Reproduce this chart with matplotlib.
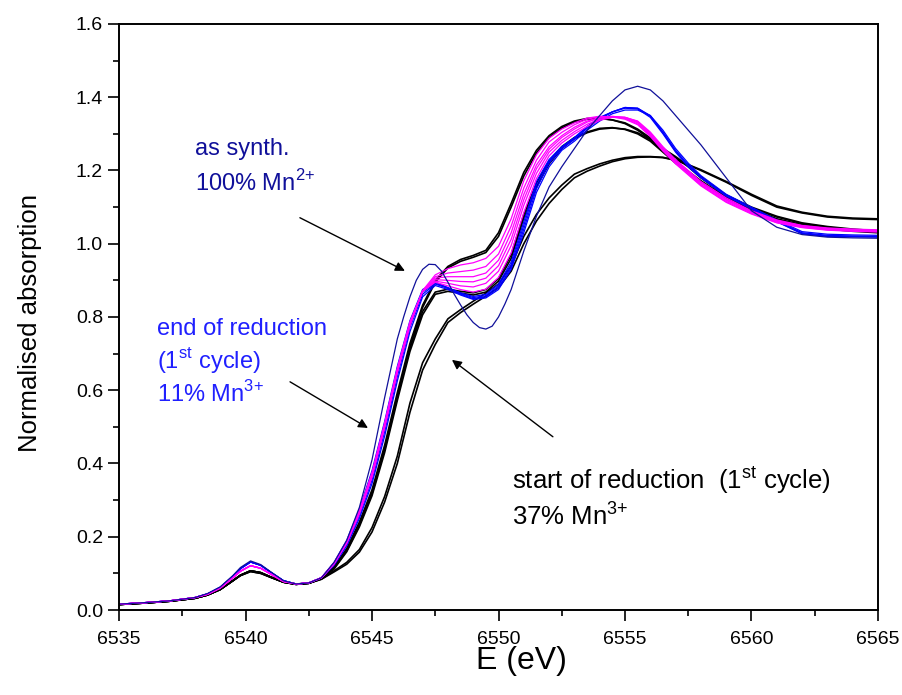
import numpy as np
import matplotlib
matplotlib.use("Agg")
import matplotlib.pyplot as plt
from matplotlib.ticker import MultipleLocator, FormatStrFormatter

plt.rcParams['font.family'] = ['Liberation Sans', 'DejaVu Sans']

# energy grid: pre-edge part and edge/post-edge part
E_pre = [6535, 6536, 6537, 6538, 6538.5, 6539, 6539.5, 6539.8, 6540.2, 6540.6, 6541, 6541.5, 6542, 6542.5, 6543]
E_edge = [6543.5, 6544, 6544.5, 6545, 6545.5, 6546, 6546.5, 6547, 6547.5, 6548, 6548.5, 6549, 6549.5,
          6550, 6550.5, 6551, 6551.5, 6552, 6552.5, 6553, 6553.5, 6554, 6554.5, 6555, 6555.5, 6556,
          6556.5, 6557, 6557.5, 6558, 6559, 6560, 6561, 6562, 6563, 6564, 6565]

# pre-edge values per group
pre_blue = [0.016, 0.020, 0.025, 0.034, 0.044, 0.062, 0.092, 0.113, 0.131, 0.122, 0.103, 0.080, 0.071, 0.074, 0.088]
pre_magenta = [0.016, 0.020, 0.025, 0.034, 0.043, 0.060, 0.088, 0.106, 0.121, 0.114, 0.098, 0.078, 0.071, 0.074, 0.088]
pre_black = [0.015, 0.019, 0.024, 0.032, 0.041, 0.056, 0.080, 0.095, 0.107, 0.102, 0.090, 0.076, 0.070, 0.073, 0.086]
pre_start = [0.015, 0.019, 0.024, 0.032, 0.041, 0.056, 0.080, 0.094, 0.105, 0.100, 0.089, 0.076, 0.071, 0.073, 0.084]

# as synthesised (100% Mn2+), on its own finer grid
E_synth = [6535, 6536, 6537, 6538, 6538.5, 6539, 6539.5, 6539.8, 6540.2, 6540.6, 6541, 6541.5, 6542, 6542.5,
           6543, 6543.5, 6544, 6544.5, 6545, 6545.5, 6546, 6546.25, 6546.5, 6546.75, 6547, 6547.25, 6547.5,
           6547.75, 6548, 6548.25, 6548.5, 6548.75, 6549, 6549.25, 6549.5, 6549.75, 6550, 6550.25, 6550.5,
           6551, 6551.5, 6552, 6552.5, 6553, 6553.5, 6554, 6554.5, 6555, 6555.5, 6556, 6556.5, 6557, 6557.5,
           6558, 6559, 6560, 6561, 6562, 6563, 6564, 6565]
y_synth = [0.016, 0.020, 0.025, 0.034, 0.045, 0.063, 0.094, 0.116, 0.134, 0.124, 0.104, 0.080, 0.071, 0.074,
           0.088, 0.13, 0.19, 0.28, 0.41, 0.58, 0.74, 0.80, 0.855, 0.90, 0.93, 0.944, 0.943, 0.925, 0.895,
           0.862, 0.833, 0.806, 0.785, 0.771, 0.767, 0.775, 0.80, 0.835, 0.875, 0.98, 1.075, 1.155, 1.21,
           1.26, 1.31, 1.35, 1.39, 1.42, 1.43, 1.42, 1.39, 1.35, 1.31, 1.27, 1.18, 1.09, 1.045, 1.025, 1.018,
           1.016, 1.015]

# end of reduction (blue)
edge_blue1 = [0.13, 0.19, 0.275, 0.38, 0.515, 0.665, 0.79, 0.875, 0.895, 0.88, 0.866, 0.856, 0.862, 0.89, 0.95,
              1.06, 1.17, 1.23, 1.265, 1.29, 1.32, 1.345, 1.36, 1.37, 1.368, 1.345, 1.30, 1.25, 1.21, 1.18,
              1.13, 1.095, 1.06, 1.027, 1.02, 1.019, 1.018]
edge_blue2 = [0.127, 0.185, 0.265, 0.365, 0.50, 0.65, 0.78, 0.868, 0.892, 0.88, 0.864, 0.853, 0.858, 0.885, 0.942,
              1.05, 1.16, 1.225, 1.262, 1.288, 1.318, 1.343, 1.36, 1.372, 1.37, 1.348, 1.303, 1.253, 1.212, 1.181,
              1.131, 1.096, 1.061, 1.028, 1.021, 1.02, 1.019]
edge_blue3 = [0.125, 0.18, 0.258, 0.355, 0.488, 0.638, 0.772, 0.862, 0.89, 0.878, 0.862, 0.850, 0.855, 0.88, 0.935,
              1.04, 1.15, 1.22, 1.26, 1.285, 1.315, 1.34, 1.36, 1.372, 1.37, 1.35, 1.305, 1.255, 1.215, 1.182,
              1.132, 1.097, 1.062, 1.03, 1.023, 1.021, 1.02]
edge_blue4 = [0.122, 0.175, 0.25, 0.345, 0.475, 0.625, 0.76, 0.855, 0.886, 0.875, 0.86, 0.848, 0.852, 0.875, 0.93,
              1.03, 1.14, 1.21, 1.255, 1.28, 1.31, 1.335, 1.355, 1.365, 1.365, 1.35, 1.31, 1.26, 1.22, 1.186,
              1.135, 1.10, 1.065, 1.033, 1.026, 1.024, 1.023]

# intermediate spectra (magenta)
edge_mag1 = [0.129, 0.188, 0.272, 0.375, 0.51, 0.66, 0.787, 0.87, 0.895, 0.885, 0.875, 0.868, 0.876, 0.908, 0.975,
             1.085, 1.178, 1.24, 1.275, 1.30, 1.32, 1.337, 1.345, 1.345, 1.335, 1.305, 1.265, 1.23, 1.20, 1.17,
             1.125, 1.09, 1.065, 1.05, 1.043, 1.04, 1.038]
edge_mag2 = [0.128, 0.186, 0.27, 0.372, 0.507, 0.657, 0.785, 0.87, 0.898, 0.892, 0.885, 0.882, 0.892, 0.925, 0.995,
             1.105, 1.192, 1.25, 1.282, 1.306, 1.326, 1.34, 1.346, 1.345, 1.334, 1.302, 1.262, 1.227, 1.197, 1.167,
             1.122, 1.088, 1.063, 1.049, 1.042, 1.039, 1.037]
edge_mag3 = [0.127, 0.185, 0.268, 0.37, 0.505, 0.655, 0.782, 0.87, 0.902, 0.9, 0.897, 0.896, 0.906, 0.94, 1.012,
             1.12, 1.205, 1.258, 1.29, 1.313, 1.332, 1.343, 1.347, 1.345, 1.332, 1.30, 1.26, 1.225, 1.195, 1.165,
             1.12, 1.087, 1.062, 1.048, 1.041, 1.038, 1.036]
edge_mag4 = [0.127, 0.184, 0.266, 0.368, 0.502, 0.652, 0.78, 0.87, 0.906, 0.91, 0.91, 0.91, 0.92, 0.955, 1.03,
             1.135, 1.215, 1.265, 1.295, 1.318, 1.335, 1.345, 1.348, 1.344, 1.33, 1.297, 1.257, 1.222, 1.192, 1.162,
             1.118, 1.085, 1.06, 1.046, 1.039, 1.036, 1.034]
edge_mag5 = [0.126, 0.183, 0.264, 0.365, 0.5, 0.65, 0.778, 0.871, 0.91, 0.92, 0.924, 0.928, 0.938, 0.972, 1.048,
             1.152, 1.228, 1.278, 1.304, 1.325, 1.34, 1.347, 1.347, 1.342, 1.327, 1.295, 1.255, 1.22, 1.19, 1.16,
             1.115, 1.083, 1.058, 1.045, 1.038, 1.035, 1.033]
edge_mag6 = [0.126, 0.182, 0.262, 0.362, 0.497, 0.647, 0.776, 0.872, 0.915, 0.932, 0.942, 0.948, 0.96, 0.993, 1.068,
             1.172, 1.243, 1.288, 1.313, 1.33, 1.343, 1.348, 1.346, 1.34, 1.325, 1.293, 1.253, 1.218, 1.188, 1.158,
             1.113, 1.081, 1.057, 1.044, 1.037, 1.034, 1.032]

# later cycles (black)
edge_blackA1 = [0.118, 0.168, 0.24, 0.328, 0.45, 0.593, 0.728, 0.832, 0.9, 0.938, 0.957, 0.968, 0.982, 1.03, 1.11,
                1.195, 1.255, 1.295, 1.32, 1.335, 1.342, 1.343, 1.338, 1.328, 1.31, 1.285, 1.255, 1.235, 1.21, 1.18,
                1.13, 1.097, 1.073, 1.055, 1.045, 1.038, 1.033]
edge_blackA2 = [0.115, 0.163, 0.233, 0.32, 0.44, 0.583, 0.718, 0.826, 0.895, 0.934, 0.952, 0.963, 0.976, 1.02, 1.10,
                1.185, 1.248, 1.29, 1.316, 1.332, 1.34, 1.342, 1.338, 1.33, 1.313, 1.289, 1.26, 1.238, 1.213, 1.183,
                1.133, 1.10, 1.075, 1.057, 1.047, 1.04, 1.035]
edge_blackB1 = [0.114, 0.162, 0.232, 0.318, 0.438, 0.58, 0.715, 0.815, 0.868, 0.876, 0.870, 0.866, 0.875, 0.905, 0.97,
                1.08, 1.165, 1.225, 1.265, 1.29, 1.305, 1.315, 1.317, 1.312, 1.30, 1.28, 1.25, 1.22, 1.195, 1.17,
                1.125, 1.092, 1.066, 1.05, 1.04, 1.034, 1.03]
edge_blackB2 = [0.112, 0.159, 0.227, 0.312, 0.43, 0.572, 0.706, 0.806, 0.862, 0.870, 0.865, 0.86, 0.868, 0.898, 0.96,
                1.07, 1.155, 1.218, 1.26, 1.287, 1.303, 1.313, 1.316, 1.313, 1.303, 1.284, 1.255, 1.225, 1.198, 1.172,
                1.127, 1.094, 1.068, 1.052, 1.042, 1.036, 1.032]

# start of reduction (37% Mn3+)
edge_start1 = [0.107, 0.13, 0.165, 0.225, 0.31, 0.42, 0.565, 0.675, 0.74, 0.795, 0.82, 0.843, 0.865, 0.89, 0.94,
               1.02, 1.08, 1.125, 1.16, 1.19, 1.205, 1.218, 1.228, 1.235, 1.238, 1.238, 1.236, 1.228, 1.215, 1.20,
               1.168, 1.132, 1.10, 1.084, 1.073, 1.068, 1.066]
edge_start2 = [0.104, 0.125, 0.158, 0.213, 0.295, 0.40, 0.54, 0.655, 0.725, 0.785, 0.812, 0.835, 0.857, 0.88, 0.925,
               1.0, 1.062, 1.11, 1.148, 1.18, 1.198, 1.212, 1.224, 1.232, 1.236, 1.237, 1.235, 1.228, 1.216, 1.202,
               1.17, 1.135, 1.103, 1.086, 1.075, 1.07, 1.068]

E_all = np.array(E_pre + E_edge)

fig, ax = plt.subplots(figsize=(9.03, 6.95), dpi=100)
fig.subplots_adjust(left=0.1318, right=0.9723, bottom=0.1223, top=0.9655)

for edge in [edge_start1, edge_start2]:
    ax.plot(E_all, pre_start + edge, color='black', lw=1.2)
for edge in [edge_blackA1, edge_blackA2, edge_blackB1, edge_blackB2]:
    ax.plot(E_all, pre_black + edge, color='black', lw=1.2)
for edge in [edge_blue1, edge_blue2, edge_blue3, edge_blue4]:
    ax.plot(E_all, pre_blue + edge, color='#0000ff', lw=0.9)
for edge in [edge_mag1, edge_mag2, edge_mag3, edge_mag4, edge_mag5, edge_mag6]:
    ax.plot(E_all, pre_magenta + edge, color='#ff00ff', lw=0.9)
ax.plot(E_synth, y_synth, color='#10109a', lw=0.9)

ax.set_xlim(6535, 6565)
ax.set_ylim(0.0, 1.6)
ax.xaxis.set_major_locator(MultipleLocator(5))
ax.xaxis.set_minor_locator(MultipleLocator(2.5))
ax.yaxis.set_major_locator(MultipleLocator(0.2))
ax.yaxis.set_minor_locator(MultipleLocator(0.1))
ax.yaxis.set_major_formatter(FormatStrFormatter('%.1f'))
ax.tick_params(which='major', direction='out', length=8, width=1.2, labelsize=14, top=False, right=False)
ax.tick_params(axis='x', which='major', pad=7)
ax.tick_params(which='minor', direction='out', length=4, width=1.2, top=False, right=False)
for sp in ax.spines.values():
    sp.set_linewidth(1.4)

ax.set_xlabel('E (eV)', fontsize=23)
ax.set_ylabel('Normalised absorption', fontsize=18.5)
ax.xaxis.set_label_coords(0.53, -0.062)
ax.yaxis.set_label_coords(-0.101, 0.49)

navy = '#10109a'
bright = '#2020ff'
ax.text(6538.0, 1.243, 'as synth.', color=navy, fontsize=17, va='baseline')
ax.text(6538.0, 1.145, '100% Mn$^{\\mathregular{2{+}}}$', color=navy, fontsize=17, va='baseline')
ax.text(6536.5, 0.751, 'end of reduction', color=bright, fontsize=17, va='baseline')
ax.text(6536.5, 0.661, '(1$^{\\mathregular{st}}$ cycle)', color=bright, fontsize=17, va='baseline')
ax.text(6536.5, 0.568, '11% Mn$^{\\mathregular{3{+}}}$', color=bright, fontsize=17, va='baseline')
ax.text(6550.53, 0.331, 'start of reduction  (1$^{\\mathregular{st}}$ cycle)', color='black', fontsize=18.5,
        va='baseline')
ax.text(6550.53, 0.232, '37% Mn$^{\\mathregular{3{+}}}$', color='black', fontsize=18.5, va='baseline')

arrow = dict(arrowstyle='-|>', color='black', lw=1.0, mutation_scale=14, shrinkA=0, shrinkB=0)
ax.annotate('', xy=(6546.30, 0.926), xytext=(6542.15, 1.071), arrowprops=arrow)
ax.annotate('', xy=(6544.84, 0.497), xytext=(6541.76, 0.623), arrowprops=arrow)
ax.annotate('', xy=(6548.16, 0.683), xytext=(6552.15, 0.473), arrowprops=arrow)

fig.savefig('out.png', dpi=100)
